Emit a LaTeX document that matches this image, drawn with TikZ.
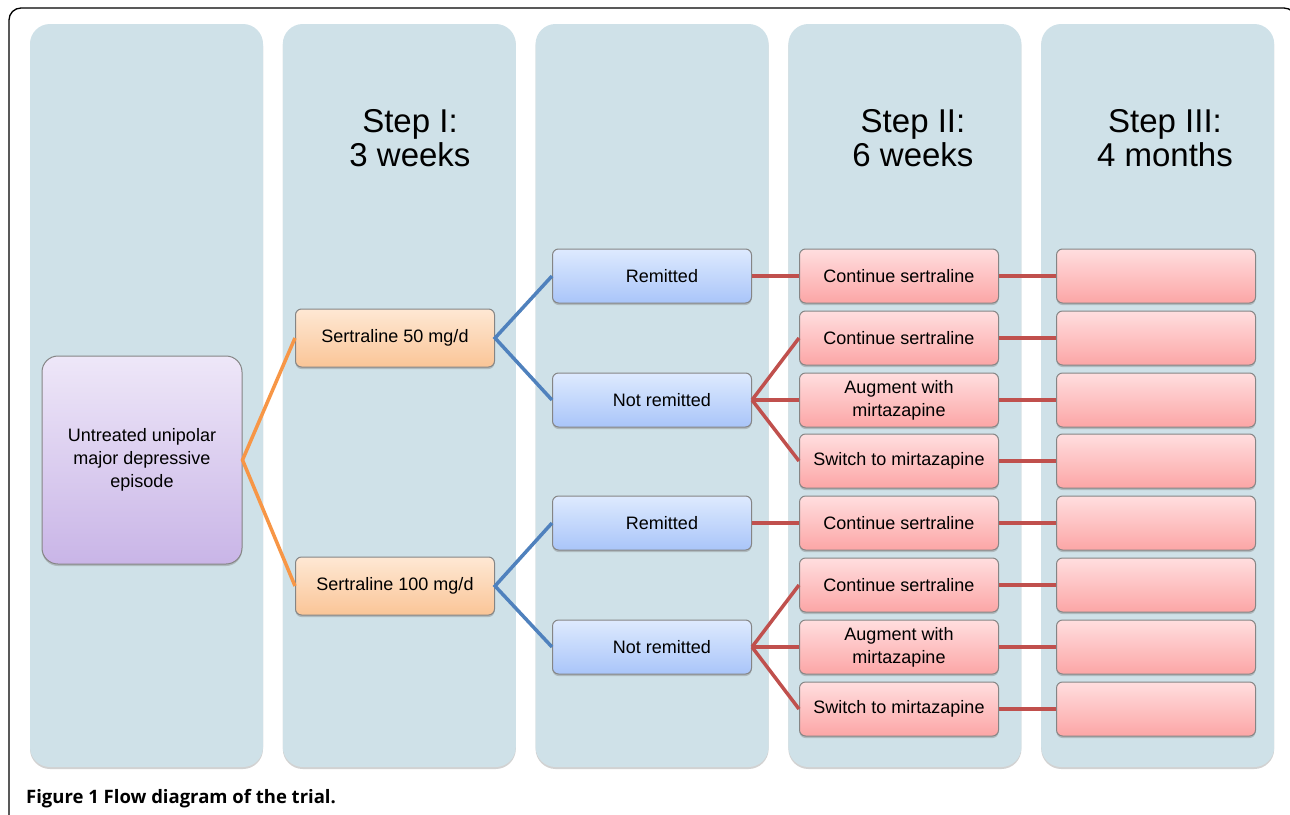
\documentclass[tikz,border=0pt]{standalone}
\usepackage{fontspec}
\setmainfont{Liberation Sans}
\newfontfamily\capfont{Open Sans}
\usetikzlibrary{shadows}

\definecolor{colbg}{HTML}{CFE1E8}
\definecolor{boxline}{HTML}{858585}
\definecolor{orangeline}{HTML}{F79646}
\definecolor{blueline}{HTML}{4F81BD}
\definecolor{redline}{HTML}{C0504D}
\definecolor{violettop}{HTML}{EEE7F8}
\definecolor{violetbot}{HTML}{C9B5E7}
\definecolor{orangetop}{HTML}{FEE8D4}
\definecolor{orangebot}{HTML}{FAC597}
\definecolor{bluetop}{HTML}{DEEAFE}
\definecolor{bluebot}{HTML}{A9C5F9}
\definecolor{pinktop}{HTML}{FFDEDF}
\definecolor{pinkbot}{HTML}{FCA6A6}

\tikzset{
 column/.style={fill=colbg, rounded corners=20pt, drop shadow={shadow xshift=0pt, shadow yshift=-2pt, opacity=.35}},
 box/.style={draw=boxline, line width=1pt, rounded corners=6pt, minimum width=199pt, minimum height=54pt,
   inner sep=0pt, align=center, font=\fontsize{18}{23}\selectfont,
   drop shadow={shadow xshift=0pt, shadow yshift=-2pt, opacity=.4}},
 startbox/.style={box, rounded corners=16pt, minimum width=200pt, minimum height=208pt, top color=violettop, bottom color=violetbot},
 dosebox/.style={box, minimum height=58pt, top color=orangetop, bottom color=orangebot},
 outcomebox/.style={box, top color=bluetop, bottom color=bluebot},
 stepbox/.style={box, top color=pinktop, bottom color=pinkbot},
 link/.style={line width=3.5pt},
 header/.style={align=center, font=\fontsize{33}{34}\selectfont}
}

\begin{document}
\begin{tikzpicture}[x=1pt, y=-1pt]
\clip (0,0) rectangle (1290,814);
\fill[white] (0,0) rectangle (1290,814);
\draw[line width=1.3pt, rounded corners=12pt] (9,830) -- (9,8) -- (1296,8) -- (1296,830);

% columns
\foreach \i in {0,...,4}
 \path[column] ({30+252.8*\i},24) rectangle ++(233,743);

\node[header] (head1) at (410,138) {Step I:\\3 weeks};
\node[header] (head2) at (913,138) {Step II:\\6 weeks};
\node[header] (head3) at (1165,138) {Step III:\\4 months};

\node[startbox] (untreated) at (142,460) {Untreated unipolar\\major depressive\\episode};

\node[dosebox] (sert50) at (395,338) {Sertraline 50 mg/d};
\node[dosebox] (sert100) at (395,586) {Sertraline 100 mg/d};

\node[outcomebox] (rem1) at (652,276) {\hspace*{20pt}Remitted};
\node[outcomebox] (notrem1) at (652,400) {\hspace*{20pt}Not remitted};
\node[outcomebox] (rem2) at (652,523) {\hspace*{20pt}Remitted};
\node[outcomebox] (notrem2) at (652,647) {\hspace*{20pt}Not remitted};

\foreach \y/\txt [count=\i] in {276/Continue sertraline, 338/Continue sertraline,
  400/{Augment with\\mirtazapine}, 461/Switch to mirtazapine,
  523/Continue sertraline, 585/Continue sertraline,
  647/{Augment with\\mirtazapine}, 709/Switch to mirtazapine} {
 \node[stepbox] (mid\i) at (899,\y) {\txt};
 \node[stepbox] (late\i) at (1156,\y) {};
 \draw[link, redline] (mid\i.east) -- (late\i.west);
}

\draw[link, orangeline] (sert50.west) -- (untreated.east) -- (sert100.west);
\draw[link, blueline] (rem1.west) -- (sert50.east) -- (notrem1.west);
\draw[link, blueline] (rem2.west) -- (sert100.east) -- (notrem2.west);

\draw[link, redline] (rem1.east) -- (mid1.west);
\draw[link, redline] (rem2.east) -- (mid5.west);
\foreach \j in {2,3,4}
 \draw[link, redline] (notrem1.east) -- (mid\j.west);
\foreach \j in {6,7,8}
 \draw[link, redline] (notrem2.east) -- (mid\j.west);

\node[anchor=base west, inner sep=0pt, font=\capfont\bfseries\fontsize{18.5}{22}\selectfont] (caption) at (26,803)
 {Figure 1 Flow diagram of the trial.};
\end{tikzpicture}
\end{document}
